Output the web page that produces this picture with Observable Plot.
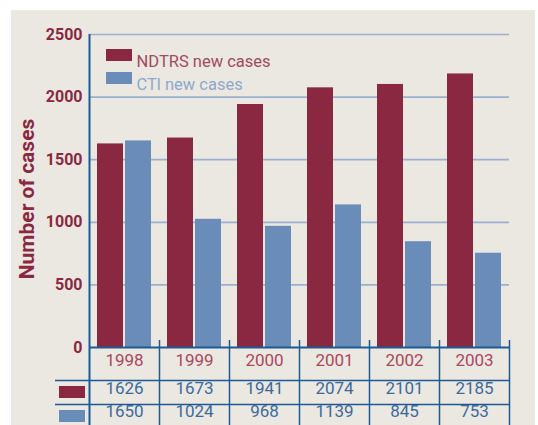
<!DOCTYPE html>
<html>
<head>
<meta charset="utf-8">
<script src="https://cdn.jsdelivr.net/npm/d3@7"></script>
<script src="https://cdn.jsdelivr.net/npm/@observablehq/plot@0.6"></script>
<style>
  html, body { margin: 0; padding: 0; background: #ffffff; }
  #wrap { position: relative; width: 538px; height: 425px; overflow: hidden; }
  #bg { position: absolute; left: 11px; top: 10px; width: 524px; height: 415px; background: #ebe8e1; }
  #chart { position: absolute; left: 0; top: 0; }
  #chart svg { overflow: visible; }
</style>
</head>
<body>
<div id="wrap"><div id="bg"></div><div id="chart"></div></div>
<script>
// ---- data ----
const years = ["1998", "1999", "2000", "2001", "2002", "2003"];
const ndtrs = [1626, 1673, 1941, 2074, 2101, 2185];
const ctl = [1650, 1024, 968, 1139, 845, 753];
const seriesNames = ["NDTRS new cases", "CTl new cases"];
const yTicks = [0, 500, 1000, 1500, 2000, 2500];
const yLabel = "Number of cases";

// ---- styling ----
const RED = "#8a2741";
const BLUE = "#6a8cb8";
const AXIS = "#1d5a93";
const GRID = "#9bb0d0";
const YEAR_TXT = "#a9475e";
const VAL_TXT = "#3c6a9c";
const LEG_RED_TXT = "#a24a5e";
const LEG_BLUE_TXT = "#8ea8cc";
const FONT = "Roboto, 'Noto Sans', sans-serif";
const fmt = d3.format("d");

const table = years.map((y, i) => ({year: y, ndtrs: ndtrs[i], ctl: ctl[i]}));

const chart = Plot.plot({
  width: 538,
  height: 425,
  marginLeft: 89,
  marginRight: 29,
  marginTop: 34,
  marginBottom: 78,
  style: {background: "transparent", fontFamily: FONT},
  x: {type: "band", domain: years, padding: 0, axis: null},
  y: {domain: [0, 2500], axis: null},
  marks: [
    // gridlines
    Plot.gridY(yTicks.filter(v => v > 0), {stroke: GRID, strokeOpacity: 1, strokeWidth: 1.7}),
    // bars
    Plot.barY(table, {x: "year", y: "ndtrs", fill: RED, insetLeft: 8, insetRight: 36}),
    Plot.barY(table, {x: "year", y: "ctl", fill: BLUE, insetLeft: 36, insetRight: 8}),
    // y axis labels
    Plot.axisY(yTicks, {tickSize: 0, tickPadding: 7, tickFormat: fmt, fontSize: 16, fontWeight: "bold", fill: RED, label: null}),
    Plot.text([yLabel], {frameAnchor: "left", textAnchor: "middle", dx: -62, dy: 8, rotate: -90, fontSize: 21, fontWeight: "bold", fill: RED}),
    // legend inside plot
    Plot.rect([0], {insetLeft: 17, insetRight: 377, insetTop: 15, insetBottom: 286, fill: RED}),
    Plot.rect([0], {insetLeft: 17, insetRight: 377, insetTop: 38, insetBottom: 263, fill: BLUE}),
    Plot.text([seriesNames[0]], {frameAnchor: "top-left", dx: 47, dy: 21, textAnchor: "start", fontSize: 16.5, fill: LEG_RED_TXT}),
    Plot.text([seriesNames[1]], {frameAnchor: "top-left", dx: 47, dy: 44, textAnchor: "start", fontSize: 16.5, fill: LEG_BLUE_TXT}),
    // table lines
    Plot.ruleY([0], {dy: 33, insetLeft: -34, stroke: AXIS, strokeWidth: 1.5}),
    Plot.ruleY([0], {dy: 57, insetLeft: -34, stroke: AXIS, strokeWidth: 1.5}),
    Plot.ruleX(years, {x: d => d, dx: 35, insetTop: 306, insetBottom: -78, stroke: AXIS, strokeWidth: 1.5}),
    Plot.ruleX([years[0]], {x: d => d, dx: -35, insetBottom: -78, stroke: AXIS, strokeWidth: 2}),
    Plot.ruleY([0], {stroke: AXIS, strokeWidth: 2}),
    // table swatches
    Plot.rect([0], {insetLeft: -30, insetRight: 424, insetTop: 352, insetBottom: -51, fill: RED}),
    Plot.rect([0], {insetLeft: -30, insetRight: 424, insetTop: 376, insetBottom: -75, fill: BLUE}),
    // table text
    Plot.text(years, {x: d => d, text: d => d, frameAnchor: "bottom", dy: 18, fontSize: 17, fill: YEAR_TXT}),
    Plot.text(table, {x: "year", text: d => fmt(d.ndtrs), frameAnchor: "bottom", dy: 46, fontSize: 17, fill: VAL_TXT}),
    Plot.text(table, {x: "year", text: d => fmt(d.ctl), frameAnchor: "bottom", dy: 69, fontSize: 17, fill: VAL_TXT})
  ]
});
document.getElementById("chart").appendChild(chart);
</script>
</body>
</html>
